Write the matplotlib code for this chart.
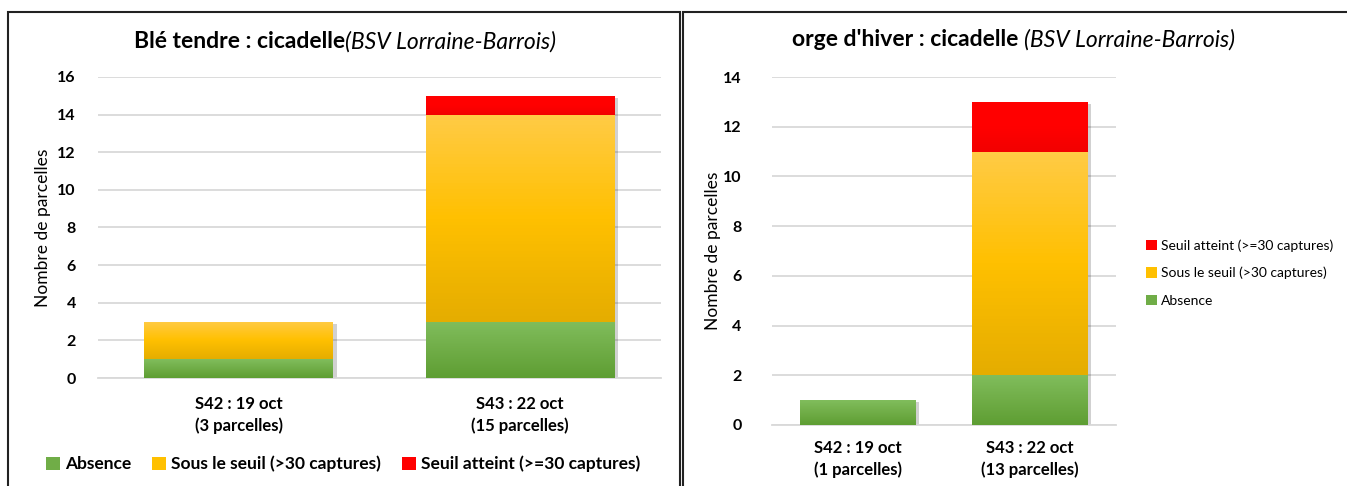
import numpy as np
import matplotlib
matplotlib.use("Agg")
import matplotlib.pyplot as plt
from matplotlib.patches import Rectangle
from matplotlib.colors import LinearSegmentedColormap
import matplotlib.transforms as mtransforms

plt.rcParams['font.family'] = ['Lato', 'DejaVu Sans']

# données
series = ["Absence", "Sous le seuil (>30 captures)", "Seuil atteint (>=30 captures)"]

ble_cats = ["S42 : 19 oct\n(3 parcelles)", "S43 : 22 oct\n(15 parcelles)"]
ble_absence = [1, 3]
ble_sous = [2, 11]
ble_seuil = [0, 1]

orge_cats = ["S42 : 19 oct\n(1 parcelles)", "S43 : 22 oct\n(13 parcelles)"]
orge_absence = [1, 2]
orge_sous = [0, 9]
orge_seuil = [0, 2]

# couleurs (haut, milieu, bas) pour les dégradés
grads = {
    "Absence": ["#80bd5c", "#70ad47", "#5e9e33"],
    "Sous le seuil (>30 captures)": ["#ffcb45", "#ffc000", "#e5ad00"],
    "Seuil atteint (>=30 captures)": ["#ff0000", "#ff0000", "#f20000"],
}
flat = {"Absence": "#70ad47", "Sous le seuil (>30 captures)": "#ffc000",
        "Seuil atteint (>=30 captures)": "#ff0000"}


def gradient_bar(ax, x, h, bottom, width, name):
    if h <= 0:
        return
    # ombre
    shadow = Rectangle((x - width / 2, bottom), width, h, facecolor="#000000",
                       alpha=0.18, edgecolor="none", zorder=2)
    shadow.set_transform(ax.transData + mtransforms.ScaledTranslation(
        2.5 / 72, -1.5 / 72, ax.figure.dpi_scale_trans))
    ax.add_patch(shadow)
    rect = Rectangle((x - width / 2, bottom), width, h, facecolor="none",
                     edgecolor="none", zorder=3)
    ax.add_patch(rect)
    cmap = LinearSegmentedColormap.from_list(name, grads[name][::-1])
    img = ax.imshow(np.linspace(0, 1, 64).reshape(-1, 1), cmap=cmap,
                    extent=(x - width / 2, x + width / 2, bottom, bottom + h),
                    origin="lower", aspect="auto", zorder=3)
    img.set_clip_path(rect)


def draw_chart(ax, cats, absence, sous, seuil, ymax, step):
    x = np.arange(len(cats))
    width = 0.67
    bottoms = np.zeros(len(cats))
    for name, vals in zip(series, [absence, sous, seuil]):
        for i, v in enumerate(vals):
            gradient_bar(ax, x[i], v, bottoms[i], width, name)
        bottoms += np.array(vals)
    ax.set_xlim(-0.5, len(cats) - 0.5)
    ax.set_ylim(0, ymax)
    ax.set_yticks(np.arange(0, ymax + 1, step))
    ax.grid(axis="y", color="#d9d9d9", linewidth=1.3)
    ax.set_axisbelow(True)
    for s in ["top", "right", "left"]:
        ax.spines[s].set_visible(False)
    ax.spines["bottom"].set_color("#d9d9d9")
    ax.spines["bottom"].set_linewidth(1.3)
    ax.tick_params(length=0)
    ax.set_xticks(x)
    ax.set_xticklabels(cats, fontweight="bold", fontsize=12, linespacing=1.4)
    for lab in ax.get_yticklabels():
        lab.set_fontweight("bold")
        lab.set_fontsize(11.5)
    ax.set_ylabel("Nombre de parcelles", fontsize=12.5)


fig = plt.figure(figsize=(13.47, 4.86), dpi=100)

# cadres des deux graphiques
fig.add_artist(Rectangle((8 / 1347, -0.05), 672 / 1347, 1 - 12 / 486 + 0.05,
                         transform=fig.transFigure, fill=False,
                         edgecolor="#222222", linewidth=1.5))
fig.add_artist(Rectangle((683 / 1347, -0.05), 680 / 1347, 1 - 12 / 486 + 0.05,
                         transform=fig.transFigure, fill=False,
                         edgecolor="#222222", linewidth=1.5))

ax1 = fig.add_axes([98 / 1347, 1 - 378 / 486, 563 / 1347, 301 / 486])
draw_chart(ax1, ble_cats, ble_absence, ble_sous, ble_seuil, 16, 2)
ax1.tick_params(axis="x", pad=13)
ax1.tick_params(axis="y", pad=16)
ax1.yaxis.set_label_coords(-0.083, 0.5)

ax2 = fig.add_axes([772 / 1347, 1 - 425 / 486, 344 / 1347, 348 / 486])
draw_chart(ax2, orge_cats, orge_absence, orge_sous, orge_seuil, 14, 2)
ax2.tick_params(axis="x", pad=11)
ax2.tick_params(axis="y", pad=22)
ax2.yaxis.set_label_coords(-0.148, 0.5)

# titres
fig.text(345 / 1347, 1 - 42 / 486, "Blé tendre : cicadelle", fontsize=16.5,
         fontweight="bold", ha="right", va="center")
fig.text(345 / 1347, 1 - 42 / 486, "(BSV Lorraine-Barrois)", fontsize=16.5,
         style="italic", ha="left", va="center")
fig.text(1024 / 1347, 1 - 40 / 486, "orge d'hiver : cicadelle ", fontsize=16.5,
         fontweight="bold", ha="right", va="center")
fig.text(1024 / 1347, 1 - 40 / 486, "(BSV Lorraine-Barrois)", fontsize=16.5,
         style="italic", ha="left", va="center")

# légendes
handles = [Rectangle((0, 0), 1, 1, facecolor=flat[s]) for s in series]
fig.legend(handles, series, loc="center", bbox_to_anchor=(343 / 1347, 1 - 464 / 486),
           ncol=3, frameon=False, prop={"weight": "bold", "size": 12.5},
           handlelength=0.8, handleheight=0.8, handletextpad=0.3, columnspacing=1.2)
fig.legend(handles[::-1], series[::-1], loc="center left",
           bbox_to_anchor=(1133 / 1347, 1 - 273 / 486), ncol=1, frameon=False,
           prop={"size": 10}, handlelength=0.8, handleheight=0.8,
           handletextpad=0.3, labelspacing=1.1)

fig.savefig("out.png", dpi=100)
